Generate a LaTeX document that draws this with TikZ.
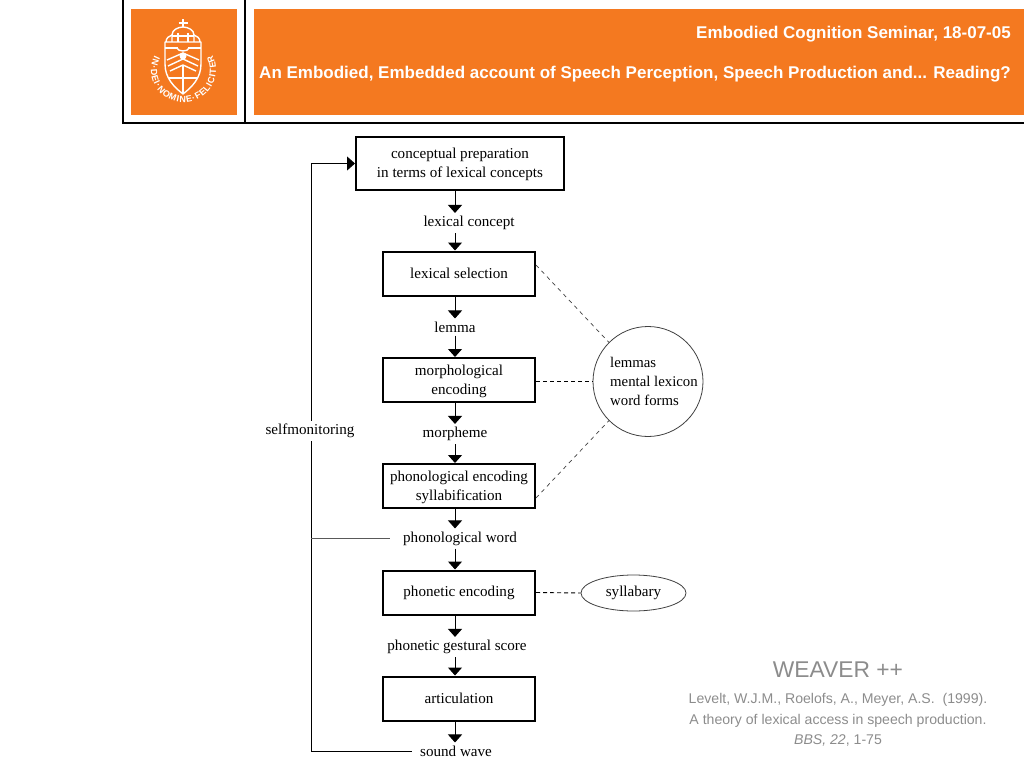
\documentclass[tikz,border=0pt]{standalone}
\usepackage{fontspec}
\setmainfont{Liberation Serif}
\newfontfamily\hfont{Liberation Sans}
\usetikzlibrary{arrows.meta,shapes.geometric,decorations.text,calc}
\definecolor{ruorange}{HTML}{F47920}
\definecolor{refgray}{HTML}{8C8C8C}
\newcommand\tdown{\rule{0pt}{13pt}}
\tikzset{
 x=1pt,y=-1pt,
 orangebox/.style={fill=ruorange,draw=none},
 procbox/.style={draw=black,line width=2pt,minimum height=44pt,minimum width=152pt,inner sep=0pt,align=center,font=\fontsize{15.1}{19}\selectfont},
 flowlabel/.style={inner xsep=1pt,inner ysep=3pt,font=\fontsize{15.1}{18}\selectfont},
 flowarrow/.style={draw=black,line width=1pt,-{Triangle[length=8pt,width=14pt]}},
 plainline/.style={draw=black,line width=0.8pt},
 dashline/.style={draw=black!75,line width=0.7pt,dash pattern=on 4pt off 4pt},
 dashdark/.style={draw=black,line width=0.9pt,dash pattern=on 4pt off 3pt},
 headtext/.style={text=white,inner sep=0pt,font=\hfont\bfseries\fontsize{17}{20}\selectfont},
 crest/.style={draw=white,line width=1.4pt,fill=none,line join=round},
}
\begin{document}
\begin{tikzpicture}
\useasboundingbox (0,0) rectangle (1024,768);
% header frame
\draw[black,line width=1.4pt] (123,0) -- (123,123) -- (1024,123);
\draw[black,line width=1.4pt] (245,0) -- (245,123);
\fill[orangebox] (131,9) rectangle (237,115);
\fill[orangebox] (254,9) rectangle (1024,115);
\node[headtext,anchor=east] (title1) at (1011,34) {Embodied Cognition Seminar, 18-07-05};
\node[headtext,anchor=east] (title2) at (1011,74) {An Embodied, Embedded account of Speech Perception, Speech Production and... Reading?};
% crest: shield
\draw[crest] (165,42) -- (201,42) -- (201,64) .. controls (201,78) and (192,87) .. (183,94) .. controls (174,87) and (165,78) .. (165,64) -- cycle;
\draw[crest] (165,48) -- (178,48) (188,48) -- (201,48);
\draw[crest] (167,60) -- (183,53) -- (199,60);
\draw[crest] (168,66) -- (183,59) -- (198,66);
\draw[crest] (170,71) -- (183,65) -- (196,71);
\draw[crest] (183,66) -- (183,93);
\draw[crest] (169,78) -- (197,78);
\fill[white] (183,56) circle (3.5);
\draw[crest] (177,48) .. controls (178,52) and (188,52) .. (189,48);
% crest: dome and cross
\draw[crest] (172,42) -- (172,35) .. controls (172,30) and (178,27) .. (183,27) .. controls (188,27) and (194,30) .. (194,35) -- (194,42);
\draw[crest] (178,42) -- (178,33) (188,42) -- (188,33) (172,36) -- (194,36);
\draw[crest] (166,42) .. controls (166,38) and (169,36) .. (172,35);
\draw[crest] (200,42) .. controls (200,38) and (197,36) .. (194,35);
\draw[white,line width=2pt] (183,27) -- (183,19) (178.5,23) -- (187.5,23);
\path[postaction={decorate},decoration={text along path,text align={fit to path},
 text={|\hfont\bfseries\fontsize{9}{10}\selectfont\color{white}|IN·DEI·NOMINE·FELICITER}}]
 (183.5,70) ++(207:32.5) arc[start angle=207,end angle=-27,radius=32.5];
% flow boxes
\node[procbox,minimum width=208pt,minimum height=53pt] (cp) at (460,163.5) {\tdown conceptual preparation\\in terms of lexical concepts};
\node[procbox] (ls) at (459,273.5) {lexical selection};
\node[procbox] (me) at (459,380) {\tdown morphological\\encoding};
\node[procbox] (pe) at (459,486) {\tdown phonological encoding\\ syllabification};
\node[procbox] (pn) at (459,592.5) {phonetic encoding};
\node[procbox] (ar) at (459,698.5) {articulation};
\node[flowlabel] (lc) at (469,223) {lexical concept};
\node[flowlabel] (lm) at (455,327) {lemma};
\node[flowlabel] (mo) at (455,434) {morpheme};
\node[flowlabel] (pw) at (460,538.5) {phonological word};
\node[flowlabel] (gs) at (457,647) {phonetic gestural score};
\node[flowlabel] (sw) at (456,751) {sound wave};
\node[flowlabel] (sm) at (310,431) {selfmonitoring};
\coordinate (ax) at (455,0);
\coordinate (fb) at (311,0);
% arrows
\foreach \a/\b in {cp/lc,lc/ls,ls/lm,lm/me,me/mo,mo/pe,pe/pw,pw/pn,pn/gs,gs/ar,ar/sw}{
  \draw[flowarrow] (\a.south -| ax) -- (\b.north -| ax);
}
% feedback
\draw[flowarrow,line width=0.8pt] (sm.north -| fb) -- (fb |- cp.west) -- (cp.west);
\draw[plainline] (sm.south -| fb) -- (fb |- sw.west) -- ($(sw.west)+(-7,0)$);
\draw[plainline,draw=black!65,line width=1pt] (fb |- pw.west) -- ($(pw.west)+(-12,0)$);
% lexicon
\node[circle,draw=black!75,line width=0.8pt,minimum size=110pt,inner sep=0pt] (lex) at (648,381.5) {};
\node[flowlabel,anchor=west,align=left,font=\fontsize{14.8}{19}\selectfont] (lextext) at (609,381) {lemmas\\mental lexicon\\word forms};
\node[ellipse,draw=black!75,line width=0.8pt,minimum width=105pt,minimum height=36pt,inner sep=0pt,font=\fontsize{15.1}{18}\selectfont] (sy) at (633.5,593) {syllabary};
\draw[dashline] (ls.east |- 0,265) -- (lex.135);
\draw[dashdark] (me.east |- lex.west) -- (lex.west);
\draw[dashline] (pe.east |- 0,498) -- (lex.225);
\draw[dashdark] (pn.east) -- (sy.west);
% citation
\node[text=refgray,inner sep=0pt,font=\hfont\fontsize{22.8}{26}\selectfont] (wv) at (838,670) {WEAVER ++};
\node[text=refgray,inner sep=0pt,align=center,font=\hfont\fontsize{14.1}{20.5}\selectfont] (ct) at (838,720) {Levelt, W.J.M., Roelofs, A., Meyer, A.S.\ \ (1999).\\A theory of lexical access in speech production.\\{\itshape BBS, 22}, 1-75};
\end{tikzpicture}
\end{document}
